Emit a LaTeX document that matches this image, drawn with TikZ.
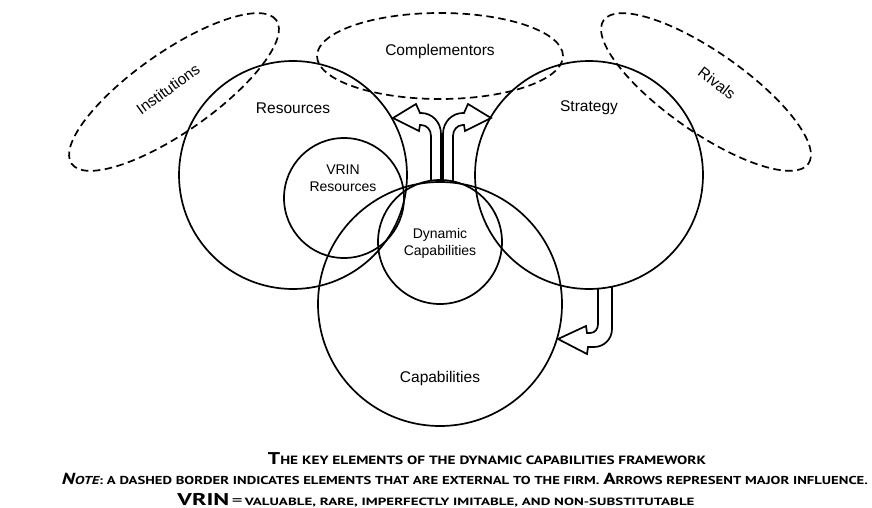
\documentclass[tikz,border=0pt]{standalone}
\usepackage{fontspec}
\usepackage{graphicx}
\setmainfont{Liberation Sans}
\newfontfamily\capfont{PT Sans}
\usetikzlibrary{shapes.geometric}
\newcommand{\BigC}[1]{{\fontsize{17}{17}\selectfont #1}}
\newcommand{\SmC}[1]{{\fontsize{12}{12}\selectfont #1}}
\newcommand{\BigD}[1]{{\fontsize{16}{16}\selectfont #1}}
\newcommand{\SmD}[1]{{\fontsize{11.5}{11.5}\selectfont #1}}
\newcommand{\SmE}[1]{{\fontsize{10.5}{10.5}\selectfont #1}}
\begin{document}
\begin{tikzpicture}[x=1pt,y=-1pt,
  circ/.style={circle, draw, line width=1.7pt, inner sep=0pt},
  ext/.style={ellipse, draw, line width=1.7pt, dash pattern=on 7.5pt off 4.5pt, inner sep=0pt},
  arr/.style={draw, line width=1.7pt, line join=miter},
  lbl/.style={font=\fontsize{15.5}{17}\selectfont, align=center},
  ilbl/.style={font=\fontsize{14}{17}\selectfont, align=center},
  captext/.style={anchor=base, inner sep=0pt, font=\capfont\bfseries}]
\useasboundingbox (0,0) rectangle (872,508);
% external (dashed) elements
\node[ext, minimum width=250pt, minimum height=80pt, rotate=35] (inst) at (174,92) {};
\node[ext, minimum width=246pt, minimum height=86pt] (comp) at (440,56) {};
\node[ext, minimum width=250pt, minimum height=80pt, rotate=-35] (riv) at (706,92) {};
% firm elements
\node[circ, minimum size=228pt] (res) at (293,175) {};
\node[circ, minimum size=228pt] (str) at (589,175) {};
\node[circ, minimum size=120pt] (vrin) at (344,198) {};
\node[circ, minimum size=124pt] (dc) at (440,242) {};
\node[circ, minimum size=244pt] (capb) at (440,304) {};
% labels
\node[lbl, rotate=36] (tinst) at (168,89) {Institutions};
\node[lbl] (tcomp) at (440,51) {Complementors};
\node[lbl, rotate=-38] (triv) at (717,83) {Rivals};
\node[lbl] (tres) at (293,108) {Resources};
\node[lbl] (tstr) at (589,108) {Strategy};
\node[ilbl] (tvrin) at (343,178) {VRIN\\Resources};
\node[ilbl] (tdc) at (440,243) {Dynamic\\Capabilities};
\node[lbl] (tcap) at (440,378) {Capabilities};
% influence arrows
\draw[arr] (431,181) -- (431,136) .. controls (431,130) and (427,125) .. (421,125) -- (420,125) -- (419,131) -- (393,118) -- (416,104) -- (420,113) -- (421,113) .. controls (432,113) and (441,122) .. (441,134) -- (441,181);
\draw[arr] (453,181) -- (453,136) .. controls (453,130) and (457,125) .. (463,125) -- (464,125) -- (465,131) -- (491,118) -- (468,104) -- (464,113) -- (463,113) .. controls (452,113) and (443,122) .. (443,134) -- (443,181);
\draw[arr] (598,288) -- (598,324) .. controls (598,329) and (595,333) .. (590,333) -- (587,333) -- (586,326) -- (558,339) -- (587,354) -- (588,347) -- (594,347) .. controls (604,347) and (612,339) .. (612,329) -- (612,286);
% caption
\node[captext] (c1) at (487,464) {\resizebox{438pt}{\height}{\BigC{T}\SmC{HE KEY ELEMENTS OF THE DYNAMIC CAPABILITIES FRAMEWORK}}};
\node[captext] (c2) at (465,484) {\resizebox{806pt}{\height}{{\itshape\BigD{N}\SmD{OTE}}\SmD{: A DASHED BORDER INDICATES ELEMENTS THAT ARE EXTERNAL TO THE FIRM. }\BigD{A}\SmD{RROWS REPRESENT MAJOR INFLUENCE.}}};
\node[captext] (c3) at (436,505) {\resizebox{517pt}{\height}{{\fontsize{17}{17}\selectfont VRIN}\,{\fontsize{15}{15}\selectfont\mdseries =}\,\SmE{VALUABLE, RARE, IMPERFECTLY IMITABLE, AND NON-SUBSTITUTABLE}}};
\end{tikzpicture}
\end{document}
